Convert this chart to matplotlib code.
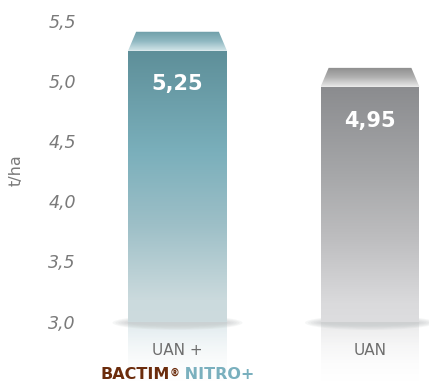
import numpy as np
import matplotlib.pyplot as plt
from matplotlib.colors import LinearSegmentedColormap
from matplotlib.patches import Polygon, Ellipse
from matplotlib.offsetbox import TextArea, HPacker, AnnotationBbox

categories = ["UAN +", "UAN"]
values = [5.25, 4.95]
value_labels = ["5,25", "4,95"]
yticks = [3.0, 3.5, 4.0, 4.5, 5.0, 5.5]
ytick_labels = ["3,0", "3,5", "4,0", "4,5", "5,0", "5,5"]

# colours bottom -> top
front_colors = [[(0, "#cddbde"), (0.08, "#cbdadd"), (0.36, "#9dbfc7"), (0.63, "#7aafbb"), (1, "#5e8f99")],
                [(0, "#dddddf"), (0.08, "#dadadc"), (0.36, "#bdbdbf"), (0.63, "#a6a7a9"), (1, "#8b8c8f")]]
top_colors = [["#d4e6ea", "#8fb8c1", "#6e9ea8"],
              ["#eaeaea", "#b0b0b0", "#8c8c8c"]]
refl_colors = ["#dfeaed", "#e9e9ea"]

base = 3.0
bar_w = 0.514
depth = 0.158
inset = 0.042


def grad_fill(ax, verts, colors, y0, y1, alpha=None, z=2):
    cmap = LinearSegmentedColormap.from_list("g", colors)
    img = cmap(np.linspace(0, 1, 256))[:, None, :].copy()
    if alpha is not None:
        img[:, 0, 3] = np.linspace(alpha[0], alpha[1], 256)
    xs = [v[0] for v in verts]
    im = ax.imshow(img, extent=(min(xs), max(xs), y0, y1), origin="lower",
                   aspect="auto", zorder=z, interpolation="bilinear")
    clip = Polygon(verts, closed=True, facecolor="none", edgecolor="none")
    ax.add_patch(clip)
    im.set_clip_path(clip)


fig = plt.figure(figsize=(4.29, 3.81), dpi=100)
ax = fig.add_axes([80 / 429, 0, 349 / 429, 1])

for i, v in enumerate(values):
    x0, x1 = i - bar_w / 2, i + bar_w / 2
    # reflection below the base
    grad_fill(ax, [(x0, 2.45), (x1, 2.45), (x1, base), (x0, base)],
              ["white", refl_colors[i]], 2.45, base, alpha=(0.0, 1.0), z=1)
    # soft shadow
    for k in range(6):
        ax.add_patch(Ellipse((i, base - 0.01), 0.675 - k * 0.03, 0.12 - k * 0.015,
                             facecolor="#bfc3c4", edgecolor="none", alpha=0.14, zorder=1.5))
    # front face
    grad_fill(ax, [(x0, base), (x1, base), (x1, v), (x0, v)],
              front_colors[i], base, v, z=3)
    # top face
    grad_fill(ax, [(x0, v), (x1, v), (x1 - inset, v + depth), (x0 + inset, v + depth)],
              top_colors[i], v, v + depth, z=3)
    ax.text(i, v - 0.28, value_labels[i], ha="center", va="center", color="white",
            fontsize=15, fontweight="bold", zorder=5)
    ax.text(i, 0.081, categories[i], transform=ax.get_xaxis_transform(),
            ha="center", va="center", color="#6d6d6d", fontsize=11, zorder=5)

brand = HPacker(children=[
    TextArea("BACTIM", textprops=dict(color="#6b2c0c", fontweight="bold", fontsize=11.5)),
    TextArea("®", textprops=dict(color="#6b2c0c", fontweight="bold", fontsize=7)),
    TextArea(" NITRO+", textprops=dict(color="#7ab0be", fontweight="bold", fontsize=11.5)),
], align="top", pad=0, sep=0)
ax.add_artist(AnnotationBbox(brand, (0, 0.016), xycoords=("data", "axes fraction"),
                             box_alignment=(0.5, 0.5), frameon=False, pad=0,
                             annotation_clip=False, zorder=5))

ax.set_xlim(-0.5065, 1.3065)
ax.set_ylim(2.506, 5.672)
ax.set_yticks(yticks)
ax.set_yticklabels(ytick_labels, fontsize=12.5, style="italic", color="#7a7a7a")
ax.tick_params(axis="y", length=0, pad=3)
ax.set_xticks([])
for s in ax.spines.values():
    s.set_visible(False)

fig.text(16 / 429, 1 - 170 / 381, "t/ha", rotation=90, ha="center", va="center",
         color="#7a7a7a", fontsize=11.5)

fig.savefig("out.png", dpi=100)
